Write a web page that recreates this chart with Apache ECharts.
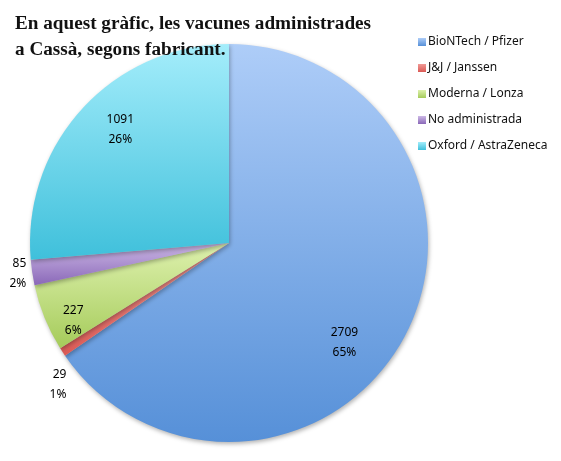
<!DOCTYPE html>
<html>
<head>
<meta charset="utf-8">
<script src="https://cdn.jsdelivr.net/npm/echarts@6/dist/echarts.min.js"></script>
<style>
  html, body { margin: 0; padding: 0; background: #fff; }
  #main { width: 561px; height: 461px; }
</style>
</head>
<body>
<div id="main"></div>
<script>
// dades del gràfic
var fabricants = ['BioNTech / Pfizer', 'J&J / Janssen', 'Moderna / Lonza', 'No administrada', 'Oxford / AstraZeneca'];
var dosis = [2709, 29, 227, 85, 1091];
// etiquetes petites que van a fora del pastís
var etiquetaFora = [false, true, false, true, false];

var colorsDalt = ['#aecdf8', '#f09a96', '#def1ae', '#cdb9e6', '#a4edfb'];
var colorsBaix = ['#5690d8', '#db5a55', '#a5cb5a', '#8a68b8', '#3fc0db'];

// l'original és una el·lipse: petit ajust de les etiquetes
var desplEtiqueta = [[-20, 28], [0, 0], [-14, 20], [0, 0], [4, -10]];

var myChart = echarts.init(document.getElementById('main'));

function gradient(i) {
    return new echarts.graphic.LinearGradient(0, 0, 0, 1, [
        { offset: 0, color: colorsDalt[i] },
        { offset: 1, color: colorsBaix[i] }
    ]);
}

var dadesPastis = fabricants.map(function (nom, i) {
    var d = {
        name: nom,
        value: dosis[i],
        itemStyle: { color: gradient(i) },
        label: { show: etiquetaFora[i] }
    };
    if (nom == 'J&J / Janssen') {
        d.labelLine = { show: false, length: 60, length2: -56 };
    }
    return d;
});

var dadesEtiquetes = fabricants.map(function (nom, i) {
    return {
        name: nom,
        value: dosis[i],
        label: { show: !etiquetaFora[i], offset: desplEtiqueta[i] }
    };
});

var textEtiqueta = {
    formatter: '{c}\n{d}%',
    fontFamily: 'Noto Sans',
    fontSize: 12,
    lineHeight: 20,
    color: '#000'
};

var option = {
    animation: false,
    title: {
        text: 'En aquest gràfic, les vacunes administrades\na Cassà, segons fabricant.',
        left: 10,
        top: 6,
        textStyle: {
            fontFamily: 'Liberation Serif',
            fontWeight: 'bold',
            fontSize: 19.2,
            lineHeight: 26,
            color: '#111'
        }
    },
    legend: {
        orient: 'vertical',
        left: 413,
        top: 31,
        itemWidth: 8,
        itemHeight: 8,
        itemGap: 14,
        icon: 'rect',
        data: fabricants,
        textStyle: {
            fontFamily: 'Noto Sans',
            fontSize: 12,
            color: '#111',
            padding: [0, 0, 0, -3]
        }
    },
    series: [
        {
            name: 'pastis',
            type: 'pie',
            center: [229, 243],
            radius: 199,
            startAngle: 90,
            clockwise: true,
            percentPrecision: 0,
            avoidLabelOverlap: false,
            itemStyle: {
                borderWidth: 0,
                shadowBlur: 4,
                shadowOffsetX: 1,
                shadowOffsetY: 2,
                shadowColor: 'rgba(0,0,0,0.3)'
            },
            label: Object.assign({ position: 'outside', distanceToLabelLine: 2 }, textEtiqueta),
            labelLine: { show: false, length: 4, length2: 0 },
            emphasis: { disabled: true },
            data: dadesPastis
        },
        {
            name: 'etiquetes',
            type: 'pie',
            center: [229, 243],
            radius: [101, 199],
            startAngle: 90,
            clockwise: true,
            percentPrecision: 0,
            silent: true,
            legendHoverLink: false,
            z: 3,
            itemStyle: { color: 'rgba(0,0,0,0)', borderWidth: 0 },
            label: Object.assign({ position: 'inside' }, textEtiqueta),
            labelLine: { show: false },
            emphasis: { disabled: true },
            data: dadesEtiquetes
        }
    ]
};

myChart.setOption(option);
</script>
</body>
</html>
